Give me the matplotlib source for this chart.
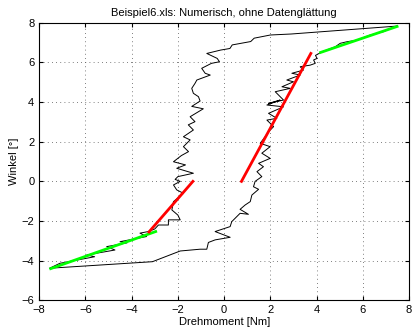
import matplotlib
matplotlib.use("Agg")
import matplotlib.pyplot as plt

plt.rcParams["font.family"] = ["Liberation Sans", "DejaVu Sans"]
plt.rcParams["font.size"] = 8

# measured hysteresis loop (torque [Nm], angle [deg])
torque = [
    7.48, 2.90, 2.00, 1.30, 1.15, 0.35, 0.25, -0.15, -0.75, -0.30, -0.20, -0.55,
    -0.97, -0.82, -0.60, -1.18, -1.26, -1.40, -1.33, -1.11, -1.04, -1.40, -0.90,
    -1.47, -1.26, -1.55, -1.33, -1.76, -1.47, -1.76, -1.54, -1.85, -2.19, -1.67,
    -2.05, -1.33, -2.00, -2.12, -1.90, -2.19, -2.05, -1.76, -2.19, -2.26, -2.00,
    -1.90, -2.41, -2.41, -2.84, -3.00, -3.28, -3.64, -3.35, -4.50, -4.20, -5.08,
    -4.72, -5.94, -5.60, -7.10, -7.55,
    -3.10, -1.90, -1.04, -0.75, -0.68, -0.39, 0.26, -0.39, 0.26, 0.33, 0.69,
    1.05, 0.69, 0.91, 1.13, 1.20, 1.49, 1.27, 1.34, 1.63, 1.42, 1.70, 1.49,
    1.99, 1.63, 1.99, 1.56, 1.77, 1.92, 2.14, 1.85, 2.28, 1.92, 2.57, 1.85,
    2.42, 1.92, 2.57, 2.21, 2.86, 2.50, 3.00, 2.71, 3.29, 2.93, 3.43, 3.29,
    3.72, 3.94, 3.87, 4.02, 3.95, 4.23, 4.81, 5.02, 5.31, 5.74, 6.32, 6.90,
    7.19, 7.48,
]
angle = [
    7.83, 7.43, 7.38, 7.22, 7.05, 6.88, 6.70, 6.62, 6.45, 6.20, 6.03, 5.95,
    5.70, 5.45, 5.36, 5.11, 4.94, 4.69, 4.44, 4.27, 4.05, 3.78, 3.66,
    3.26, 3.01, 2.85, 2.59, 2.25, 2.09, 1.75, 1.50, 1.30, 0.99, 0.83,
    0.66, 0.41, 0.24, 0.10, 0.00, -0.18, -0.43, -0.60, -1.02, -1.44, -1.70,
    -1.94, -1.94, -2.20, -2.20, -2.40, -2.53, -2.61, -2.78, -3.04, -3.10, -3.29,
    -3.46, -3.71, -3.80, -4.13, -4.38,
    -4.05, -3.51, -3.42, -3.42, -3.08, -2.95, -2.82, -2.53, -2.28, -2.03, -1.61,
    -1.66, -1.41, -1.19, -1.02, -0.69, -0.40, -0.27, 0.00, 0.24, 0.49, 0.74, 0.91,
    1.16, 1.42, 1.75, 1.92, 2.25, 2.50, 2.76, 3.09, 3.18, 3.43, 3.76, 3.85,
    4.10, 3.93, 4.10, 4.52, 4.69, 4.77, 5.02, 5.11, 5.36, 5.45, 5.61, 5.78,
    5.86, 5.95, 6.12, 6.20, 6.35, 6.53, 6.79, 6.96, 7.04, 7.12, 7.38, 7.55,
    7.71, 7.83,
]

# fitted lines: saturation (green) and linear region (red)
green_lo_x, green_lo_y = [-7.50, -2.96], [-4.40, -2.53]
green_hi_x, green_hi_y = [4.17, 7.48], [6.50, 7.81]
red_lo_x, red_lo_y = [-3.25, -1.35], [-2.55, 0.00]
red_hi_x, red_hi_y = [0.75, 3.75], [0.00, 6.45]

fig = plt.figure(figsize=(4.12, 3.29), dpi=100)
ax = fig.add_axes([0.095, 0.087, 0.898, 0.844])

ax.plot(torque, angle, color="black", linewidth=0.7)
ax.plot(green_lo_x, green_lo_y, color="#00ff00", linewidth=2)
ax.plot(green_hi_x, green_hi_y, color="#00ff00", linewidth=2)
ax.plot(red_lo_x, red_lo_y, color="#ff0000", linewidth=2)
ax.plot(red_hi_x, red_hi_y, color="#ff0000", linewidth=2)

ax.set_xlim(-8, 8)
ax.set_ylim(-6, 8)
ax.set_xticks(range(-8, 9, 2))
ax.set_yticks(range(-6, 9, 2))
ax.set_axisbelow(True)
ax.grid(True, linestyle=(0, (1, 4)), color="#555555", linewidth=0.6)
ax.tick_params(direction="in", length=3, top=True, right=True, labelsize=8)
for s in ax.spines.values():
    s.set_linewidth(0.8)

ax.set_title("Beispiel6.xls: Numerisch, ohne Datenglättung", fontsize=8, pad=5)
ax.set_xlabel("Drehmoment [Nm]", fontsize=8, labelpad=1)
ax.set_ylabel("Winkel [°]", fontsize=8, labelpad=2)

fig.savefig("out.png", dpi=100)
